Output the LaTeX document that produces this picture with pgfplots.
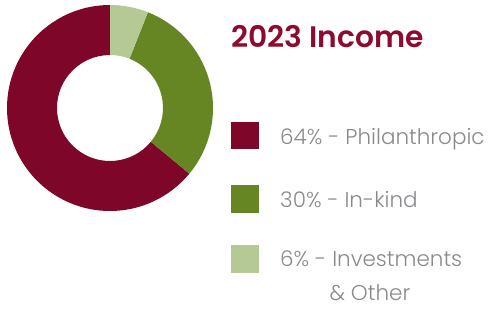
\documentclass[border=0pt]{standalone}
\usepackage{fontspec}
\setmainfont{Poppins}[UprightFont=* Light, BoldFont=* SemiBold]
\usepackage{pgfplots}
\usepackage{pgfplotstable}
\pgfplotsset{compat=1.18}
\definecolor{cred}{HTML}{7D0629}
\definecolor{ctitle}{HTML}{8E0A2F}
\definecolor{cgreen}{HTML}{668624}
\definecolor{clight}{HTML}{B5C995}
\definecolor{ctext}{HTML}{8A8A8E}
\pgfplotstableread{
value label
64 Philanthropic
30 In-kind
6 Investments
}\incometable
\begin{document}
\begin{tikzpicture}
\pgfplotstablegetelem{0}{value}\of\incometable \let\vA\pgfplotsretval
\pgfplotstablegetelem{1}{value}\of\incometable \let\vB\pgfplotsretval
\pgfplotstablegetelem{2}{value}\of\incometable \let\vC\pgfplotsretval
\pgfmathsetmacro{\aS}{90}
\pgfmathsetmacro{\aA}{\aS+3.6*\vA}
\pgfmathsetmacro{\aB}{\aA+3.6*\vB}
\pgfmathsetmacro{\aC}{\aB+3.6*\vC}
\path[use as bounding box] (0,0) rectangle (492pt,309pt);
\begin{axis}[at={(0,0)},anchor=south west,width=492pt,height=309pt,scale only axis,
  xmin=0,xmax=492,ymin=0,ymax=309,hide axis,clip=false]
\def\cx{110}\def\cy{201}\def\ro{103}\def\ri{53}
\fill[cred] (axis cs:{\cx+\ro*cos(\aS)},{\cy+\ro*sin(\aS)}) arc[start angle=\aS,end angle=\aA,radius=\ro pt]
  -- (axis cs:{\cx+\ri*cos(\aA)},{\cy+\ri*sin(\aA)}) arc[start angle=\aA,end angle=\aS,radius=\ri pt] -- cycle;
\fill[cgreen] (axis cs:{\cx+\ro*cos(\aA)},{\cy+\ro*sin(\aA)}) arc[start angle=\aA,end angle=\aB,radius=\ro pt]
  -- (axis cs:{\cx+\ri*cos(\aB)},{\cy+\ri*sin(\aB)}) arc[start angle=\aB,end angle=\aA,radius=\ri pt] -- cycle;
\fill[clight] (axis cs:{\cx+\ro*cos(\aB)},{\cy+\ro*sin(\aB)}) arc[start angle=\aB,end angle=\aC,radius=\ro pt]
  -- (axis cs:{\cx+\ri*cos(\aC)},{\cy+\ri*sin(\aC)}) arc[start angle=\aC,end angle=\aB,radius=\ri pt] -- cycle;
% title
\node[anchor=base west,inner sep=0,text=ctitle,font=\fontsize{29.7}{32}\selectfont\bfseries] at (axis cs:231,262) {2023 Income};
% legend
\fill[cred] (axis cs:231,160) rectangle (axis cs:259,187);
\fill[cgreen] (axis cs:231,96) rectangle (axis cs:259,124);
\fill[clight] (axis cs:231,36) rectangle (axis cs:259,64);
\node[anchor=base west,inner sep=0,text=ctext,font=\fontsize{21.5}{24}\selectfont] at (axis cs:280,165) {64\% - Philanthropic};
\node[anchor=base west,inner sep=0,text=ctext,font=\fontsize{21.5}{24}\selectfont] at (axis cs:280,102) {30\% - In-kind};
\node[anchor=base west,inner sep=0,text=ctext,font=\fontsize{21.5}{24}\selectfont] at (axis cs:280,43) {6\% - Investments};
\node[anchor=base,inner sep=0,text=ctext,font=\fontsize{21.5}{24}\selectfont] at (axis cs:370,8.5) {\& Other};
\end{axis}
\end{tikzpicture}
\end{document}
